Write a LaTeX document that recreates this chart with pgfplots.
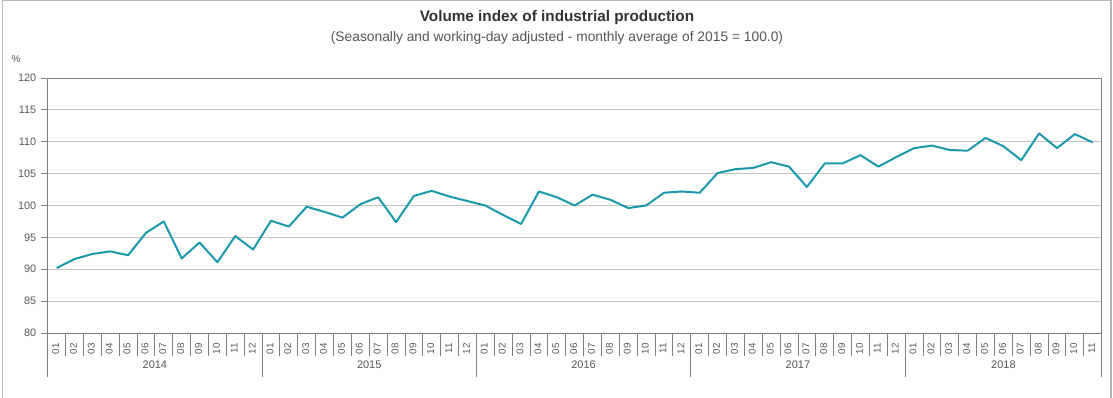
\documentclass[border=0pt]{standalone}
\usepackage{fontspec}
\setmainfont{Liberation Sans}
\usepackage{pgfplots}
\pgfplotsset{compat=1.18}
\definecolor{linec}{HTML}{1A99AD}
\definecolor{gridc}{HTML}{C4C4C4}
\definecolor{axisc}{HTML}{7F7F7F}
\definecolor{framec}{HTML}{B5B5B5}
\definecolor{titlec}{HTML}{333333}
\definecolor{subc}{HTML}{555555}
\definecolor{tickc}{HTML}{555555}
\begin{document}
\begin{tikzpicture}[x=1pt,y=1pt]
\path[use as bounding box] (0,0) rectangle (1113,-398);
\draw[framec, line width=1.2pt] (2.3,-398) -- (2.3,-0.6) -- (1111,-0.6) -- (1111,-398);
\node[font=\bfseries\fontsize{15.3}{17}\selectfont, text=titlec] at (557,-18) {Volume index of industrial production};
\node[font=\fontsize{13.8}{16}\selectfont, text=subc] at (557,-38) {(Seasonally and working-day adjusted - monthly average of 2015 = 100.0)};
\node[font=\fontsize{10}{12}\selectfont, text=tickc] at (16,-59) {\%};
\begin{axis}[at={(47.7pt,-333pt)}, anchor=south west, scale only axis,
  width=1054pt, height=255pt,
  xmin=-0.5, xmax=58.5, ymin=80, ymax=120,
  ytick={80,85,...,120},
  /pgf/number format/assume math mode=true,
  ymajorgrids, grid style={gridc, line width=0.8pt},
  axis line style={axisc, line width=0.9pt},
  ytick pos=left, xtick pos=bottom, tick align=outside, major tick length=7pt,
  ytick style={axisc, line width=0.9pt},
  xtick style={draw=none},
  y tick label style={font=\fontsize{10.8}{12}\selectfont, text=tickc, xshift=-1pt},
  xtick={0,...,58},
  xticklabels={01,02,03,04,05,06,07,08,09,10,11,12,01,02,03,04,05,06,07,08,09,10,11,12,01,02,03,04,05,06,07,08,09,10,11,12,01,02,03,04,05,06,07,08,09,10,11,12,01,02,03,04,05,06,07,08,09,10,11},
  x tick label style={font=\fontsize{9.8}{11}\selectfont, text=tickc, rotate=90, anchor=east, yshift=1pt},
  clip=false,
]
\addplot[linec, line width=2pt, mark=none, line join=round] coordinates {
(0,90.2) (1,91.6) (2,92.4) (3,92.8) (4,92.2) (5,95.7) (6,97.5) (7,91.7) (8,94.2) (9,91.1) (10,95.2) (11,93.1)
(12,97.6) (13,96.7) (14,99.8) (15,99.0) (16,98.1) (17,100.2) (18,101.3) (19,97.4) (20,101.5) (21,102.3) (22,101.4) (23,100.7)
(24,100.0) (25,98.5) (26,97.1) (27,102.2) (28,101.3) (29,100.0) (30,101.7) (31,100.9) (32,99.6) (33,100.0) (34,102.0) (35,102.2)
(36,102.0) (37,105.1) (38,105.7) (39,105.9) (40,106.8) (41,106.1) (42,102.9) (43,106.6) (44,106.6) (45,107.9) (46,106.1) (47,107.6)
(48,109.0) (49,109.4) (50,108.7) (51,108.6) (52,110.6) (53,109.3) (54,107.1) (55,111.3) (56,109.0) (57,111.2) (58,109.9)
};
\pgfplotsinvokeforeach{0,...,59}{
  \draw[axisc, line width=0.9pt] (axis cs:#1-0.5,80) -- ([yshift=-23pt]axis cs:#1-0.5,80);
}
\pgfplotsinvokeforeach{-0.5,11.5,23.5,35.5,47.5,58.5}{
  \draw[axisc, line width=0.9pt] (axis cs:#1,80) -- ([yshift=-44pt]axis cs:#1,80);
}
\node[font=\fontsize{11}{12}\selectfont, text=tickc] at (axis cs:5.5,80) [yshift=-32pt] {2014};
\node[font=\fontsize{11}{12}\selectfont, text=tickc] at (axis cs:17.5,80) [yshift=-32pt] {2015};
\node[font=\fontsize{11}{12}\selectfont, text=tickc] at (axis cs:29.5,80) [yshift=-32pt] {2016};
\node[font=\fontsize{11}{12}\selectfont, text=tickc] at (axis cs:41.5,80) [yshift=-32pt] {2017};
\node[font=\fontsize{11}{12}\selectfont, text=tickc] at (axis cs:53,80) [yshift=-32pt] {2018};
\end{axis}
\end{tikzpicture}
\end{document}
